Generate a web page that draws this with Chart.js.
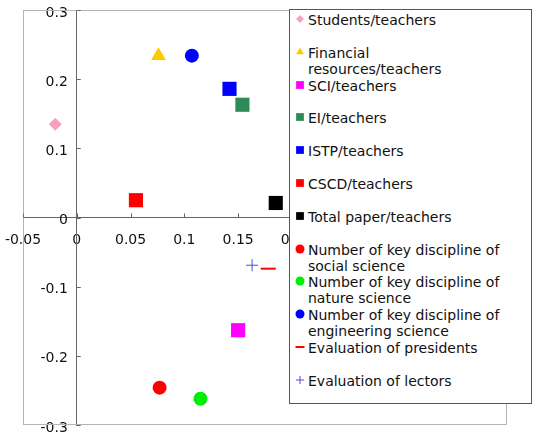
<!DOCTYPE html>
<html>
<head>
<meta charset="utf-8">
<script src="https://cdn.jsdelivr.net/npm/chart.js@4/dist/chart.umd.min.js"></script>
<style>
  body { margin: 0; background: #fff; overflow: hidden; }
  /* the original figure is clipped at the bottom, the -0.3 label is cut */
  #wrap { position: relative; width: 535px; height: 435px; }
  #legend {
    position: absolute; left: 289px; top: 9px; width: 241px; height: 393px;
    border: 1px solid #555; background: #fff;
    font-family: "DejaVu Sans", sans-serif; font-size: 14px; color: #111;
  }
  .item { position: absolute; left: 18px; line-height: 16px; white-space: pre-line; }
  .item canvas { position: absolute; left: -14px; top: 0; }
</style>
</head>
<body>
<div id="wrap">
  <canvas id="scatter" width="535" height="435"></canvas>
  <div id="legend"></div>
</div>
<script>
// one point per indicator
const seriesNames = [
  "Students/teachers",
  "Financial\nresources/teachers",
  "SCI/teachers",
  "EI/teachers",
  "ISTP/teachers",
  "CSCD/teachers",
  "Total paper/teachers",
  "Number of key discipline of\nsocial science",
  "Number of key discipline of\nnature science",
  "Number of key discipline of\nengineering science",
  "Evaluation of presidents",
  "Evaluation of lectors"
]
const xValues = [-0.020, 0.076, 0.150, 0.154, 0.142, 0.055, 0.185, 0.077, 0.115, 0.107, 0.178, 0.163]
const yValues = [0.135, 0.234, -0.163, 0.163, 0.186, 0.025, 0.021, -0.246, -0.262, 0.234, -0.074, -0.069]
const xTicks = [-0.05, 0.4, 0.05]   // min, max, step
const yTicks = [-0.3, 0.3, 0.1]

const colors = ["#f7a0c4", "#ffc800", "#ff00ff", "#2e8b57", "#0000ff", "#ff0000", "#000000",
  "#ff0000", "#00ee00", "#0000ff", "#ff0000", "#4a4ae6"]
const shapes = ["rectRot", "triangle", "rect", "rect", "rect", "rect", "rect",
  "circle", "circle", "circle", "line", "cross"]
const radii = [6.5, 8.5, 10, 10, 10, 10, 10, 7, 7, 7, 7.5, 6]
const legendRadii = [4, 4.5, 5.5, 5.5, 5.5, 5.5, 5.5, 4.5, 4.5, 4.5, 4.5, 4]

const datasets = seriesNames.map((name, i) => {
  const stroked = shapes[i] == "line" || shapes[i] == "cross"
  return {
    label: name,
    data: [{ x: xValues[i], y: yValues[i] }],
    pointStyle: shapes[i],
    pointRadius: radii[i],
    backgroundColor: colors[i],
    borderColor: colors[i],
    borderWidth: stroked ? (shapes[i] == "line" ? 2 : 1) : 0
  }
})

// grey frame + small inward tick marks at the axes
const framePlugin = {
  id: "frame",
  beforeDatasetsDraw(chart) {
    const { ctx, chartArea: a, scales: { x, y } } = chart
    ctx.save()
    ctx.strokeStyle = "#b4b4b4"
    ctx.lineWidth = 1
    ctx.strokeRect(a.left + 0.5, a.top + 0.5, a.right - a.left - 1, a.bottom - a.top - 1)
    ctx.strokeStyle = "#666"
    const x0 = x.getPixelForValue(0)
    const y0 = y.getPixelForValue(0)
    y.ticks.forEach(t => {
      const py = Math.round(y.getPixelForValue(t.value)) + 0.5
      ctx.beginPath(); ctx.moveTo(x0, py); ctx.lineTo(x0 + 4, py); ctx.stroke()
    })
    x.ticks.forEach(t => {
      const px = Math.round(x.getPixelForValue(t.value)) + 0.5
      ctx.beginPath(); ctx.moveTo(px, y0); ctx.lineTo(px, y0 - 4); ctx.stroke()
    })
    ctx.restore()
  }
}

const fmt = v => String(+(+v).toFixed(2))
// padding is ignored for an axis placed at a value, the trailing spaces keep labels off the axis
const fmtY = v => fmt(v) + "  "
// labels may spill past the plot box, so drop the extra room the scales ask for
const noPad = scale => { scale.paddingLeft = 0; scale.paddingRight = 0; scale.paddingTop = 0; scale.paddingBottom = 0 }

new Chart(document.getElementById("scatter"), {
  type: "scatter",
  data: { datasets: datasets },
  options: {
    responsive: false,
    animation: false,
    layout: { padding: { left: 23, top: 9.5, right: 28, bottom: 4 } },
    plugins: { legend: { display: false }, tooltip: { enabled: false } },
    scales: {
      x: {
        type: "linear",
        position: { y: 0 },
        min: xTicks[0], max: xTicks[1],
        afterFit: noPad,
        ticks: { stepSize: xTicks[2], callback: fmt, maxRotation: 0, autoSkip: false, padding: 14,
          color: "#111", font: { family: "DejaVu Sans", size: 14 } },
        grid: { drawOnChartArea: false, drawTicks: false },
        border: { color: "#666", width: 1 }
      },
      y: {
        type: "linear",
        position: { x: 0 },
        min: yTicks[0], max: yTicks[1],
        afterFit: noPad,
        ticks: { stepSize: yTicks[2], callback: fmtY, labelOffset: 3,
          color: "#111", font: { family: "DejaVu Sans", size: 14 } },
        grid: { drawOnChartArea: false, drawTicks: false },
        border: { color: "#666", width: 1 }
      }
    }
  },
  plugins: [framePlugin]
})

// legend box with fixed row spacing
const legend = document.getElementById("legend")
seriesNames.forEach((name, i) => {
  const item = document.createElement("div")
  item.className = "item"
  item.style.top = (2 + i * 32.8) + "px"
  item.textContent = name
  const c = document.createElement("canvas")
  c.width = 12; c.height = 14
  item.appendChild(c)
  legend.appendChild(item)
  const ctx = c.getContext("2d")
  ctx.fillStyle = colors[i]
  ctx.strokeStyle = colors[i]
  ctx.lineWidth = shapes[i] == "line" ? 2 : 1
  const stroked = shapes[i] == "line" || shapes[i] == "cross"
  Chart.helpers.drawPoint(ctx, {
    pointStyle: shapes[i], radius: legendRadii[i], rotation: 0,
    borderWidth: stroked ? ctx.lineWidth : 0
  }, 6, 7)
})
</script>
</body>
</html>
